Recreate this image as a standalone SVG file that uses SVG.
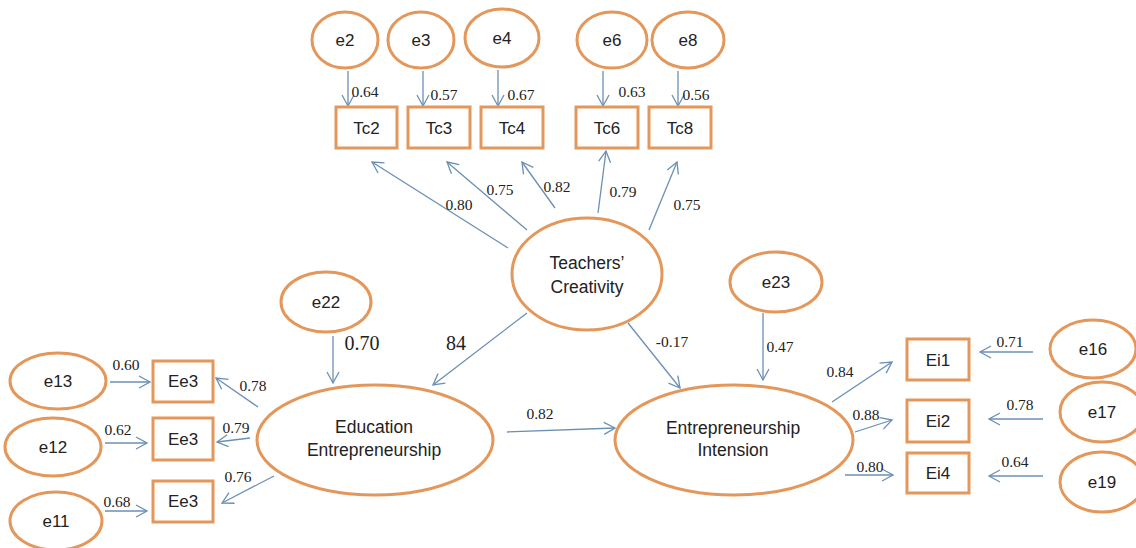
<svg xmlns="http://www.w3.org/2000/svg" width="1136" height="548" viewBox="0 0 1136 548">
  <defs>
    <marker id="open-arrow" viewBox="-1 -7 14 14" refX="11" refY="0" markerWidth="14" markerHeight="14" markerUnits="userSpaceOnUse" orient="auto">
      <path d="M0,-6 L11,0 L0,6" fill="none" stroke="#6A8FB5" stroke-width="1.3"/>
    </marker>
  </defs>
  <style>
    .node ellipse, .node rect { fill: #ffffff; stroke: #E4975A; stroke-width: 3; }
    .lbl { font-family: "Liberation Sans", Arial, sans-serif; font-size: 17px; fill: #222222; text-anchor: middle; }
    .big { font-size: 17.5px; }
    .edge line { stroke: #6A8FB5; stroke-width: 1.3; marker-end: url(#open-arrow); }
    .coef { font-family: "Liberation Serif", "Times New Roman", serif; font-size: 15.5px; fill: #222222; text-anchor: middle; }
    .coef-lg { font-size: 20px; }
  </style>
  <rect width="1136" height="548" fill="#ffffff"/>

  <!-- connectors -->
  <g id="connectors" class="edge">
    <!-- error terms onto Teachers' Creativity indicators -->
    <line x1="348" y1="71" x2="348" y2="106"/>
    <line x1="423" y1="71" x2="423" y2="106"/>
    <line x1="498" y1="70" x2="498" y2="106"/>
    <line x1="603" y1="71" x2="603" y2="106"/>
    <line x1="678" y1="71" x2="678" y2="106"/>
    <!-- Teachers' Creativity loadings -->
    <line x1="508" y1="248" x2="372" y2="162"/>
    <line x1="527" y1="230" x2="447" y2="162"/>
    <line x1="555" y1="208" x2="522" y2="162"/>
    <line x1="598" y1="213" x2="606" y2="151"/>
    <line x1="649" y1="230" x2="677" y2="162"/>
    <!-- structural paths -->
    <line x1="333" y1="336" x2="333" y2="383"/>
    <line x1="527" y1="313" x2="433" y2="385"/>
    <line x1="628" y1="323" x2="680" y2="388"/>
    <line x1="763" y1="313" x2="763" y2="380"/>
    <line x1="507" y1="432" x2="615" y2="428"/>
    <!-- Education Entrepreneurship loadings -->
    <line x1="258" y1="407" x2="216" y2="378"/>
    <line x1="250" y1="438" x2="217" y2="442"/>
    <line x1="274" y1="476" x2="222" y2="503"/>
    <!-- error terms onto Ee indicators -->
    <line x1="110" y1="382" x2="150" y2="382"/>
    <line x1="105" y1="443" x2="147" y2="443"/>
    <line x1="105" y1="511" x2="147" y2="511"/>
    <!-- Entrepreneurship Intension loadings -->
    <line x1="832" y1="402" x2="892" y2="362"/>
    <line x1="855" y1="432" x2="892" y2="420"/>
    <line x1="845" y1="475" x2="893" y2="475"/>
    <!-- error terms onto Ei indicators -->
    <line x1="1033" y1="352" x2="980" y2="352"/>
    <line x1="1043" y1="419" x2="989" y2="419"/>
    <line x1="1043" y1="476" x2="989" y2="476"/>
  </g>

  <!-- path coefficients -->
  <g id="coefficients">
    <text class="coef" x="365" y="97">0.64</text>
    <text class="coef" x="444" y="100">0.57</text>
    <text class="coef" x="521" y="100">0.67</text>
    <text class="coef" x="632" y="97">0.63</text>
    <text class="coef" x="696" y="100">0.56</text>
    <text class="coef" x="459" y="210">0.80</text>
    <text class="coef" x="500" y="195">0.75</text>
    <text class="coef" x="557" y="192">0.82</text>
    <text class="coef" x="623" y="197">0.79</text>
    <text class="coef" x="687" y="210">0.75</text>
    <text class="coef coef-lg" x="362" y="350">0.70</text>
    <text class="coef coef-lg" x="456" y="350">84</text>
    <text class="coef" x="672" y="347">-0.17</text>
    <text class="coef" x="780" y="352">0.47</text>
    <text class="coef" x="540" y="419">0.82</text>
    <text class="coef" x="126" y="370">0.60</text>
    <text class="coef" x="118" y="435">0.62</text>
    <text class="coef" x="117" y="507">0.68</text>
    <text class="coef" x="253" y="391">0.78</text>
    <text class="coef" x="236" y="433">0.79</text>
    <text class="coef" x="238" y="482">0.76</text>
    <text class="coef" x="840" y="377">0.84</text>
    <text class="coef" x="866" y="420">0.88</text>
    <text class="coef" x="870" y="472">0.80</text>
    <text class="coef" x="1010" y="347">0.71</text>
    <text class="coef" x="1020" y="410">0.78</text>
    <text class="coef" x="1015" y="467">0.64</text>
  </g>

  <!-- error terms, top row -->
  <g id="e2" class="node"><ellipse cx="345" cy="40" rx="33" ry="28"/><text class="lbl" x="345" y="46">e2</text></g>
  <g id="e3" class="node"><ellipse cx="421" cy="40" rx="33" ry="28"/><text class="lbl" x="421" y="46">e3</text></g>
  <g id="e4" class="node"><ellipse cx="502" cy="38" rx="37" ry="29"/><text class="lbl" x="502" y="44">e4</text></g>
  <g id="e6" class="node"><ellipse cx="612" cy="40" rx="35" ry="28"/><text class="lbl" x="612" y="46">e6</text></g>
  <g id="e8" class="node"><ellipse cx="688" cy="40" rx="36" ry="28"/><text class="lbl" x="688" y="46">e8</text></g>

  <!-- Teachers' Creativity indicators -->
  <g id="Tc2" class="node"><rect x="336" y="107" width="61" height="41"/><text class="lbl" x="366.5" y="134">Tc2</text></g>
  <g id="Tc3" class="node"><rect x="408" y="107" width="62" height="41"/><text class="lbl" x="439" y="134">Tc3</text></g>
  <g id="Tc4" class="node"><rect x="481" y="107" width="62" height="41"/><text class="lbl" x="512" y="134">Tc4</text></g>
  <g id="Tc6" class="node"><rect x="576" y="107" width="62" height="41"/><text class="lbl" x="607" y="134">Tc6</text></g>
  <g id="Tc8" class="node"><rect x="649" y="107" width="62" height="41"/><text class="lbl" x="680" y="134">Tc8</text></g>

  <!-- latent constructs -->
  <g id="teachers-creativity" class="node">
    <ellipse cx="587" cy="274" rx="75" ry="56"/>
    <text class="lbl big" x="587" y="269">Teachers’</text>
    <text class="lbl big" x="587" y="293">Creativity</text>
  </g>
  <g id="education-entrepreneurship" class="node">
    <ellipse cx="375" cy="440" rx="118" ry="55"/>
    <text class="lbl big" x="374" y="433">Education</text>
    <text class="lbl big" x="374" y="456">Entrepreneurship</text>
  </g>
  <g id="entrepreneurship-intension" class="node">
    <ellipse cx="734" cy="440" rx="119" ry="55"/>
    <text class="lbl big" x="733" y="434">Entrepreneurship</text>
    <text class="lbl big" x="733" y="456">Intension</text>
  </g>

  <!-- structural disturbances -->
  <g id="e22" class="node"><ellipse cx="326" cy="302" rx="45" ry="30"/><text class="lbl" x="326" y="308">e22</text></g>
  <g id="e23" class="node"><ellipse cx="776" cy="282" rx="46" ry="30"/><text class="lbl" x="776" y="288">e23</text></g>

  <!-- Education Entrepreneurship indicators and errors -->
  <g id="e13" class="node"><ellipse cx="58" cy="381" rx="48" ry="28"/><text class="lbl" x="58" y="387">e13</text></g>
  <g id="e12" class="node"><ellipse cx="53" cy="447" rx="48" ry="29"/><text class="lbl" x="53" y="453">e12</text></g>
  <g id="e11" class="node"><ellipse cx="56" cy="521" rx="46" ry="29"/><text class="lbl" x="56" y="527">e11</text></g>
  <g id="Ee3-a" class="node"><rect x="153" y="361" width="60" height="41"/><text class="lbl" x="183" y="387">Ee3</text></g>
  <g id="Ee3-b" class="node"><rect x="153" y="418" width="60" height="42"/><text class="lbl" x="183" y="445">Ee3</text></g>
  <g id="Ee3-c" class="node"><rect x="153" y="481" width="60" height="41"/><text class="lbl" x="183" y="507">Ee3</text></g>

  <!-- Entrepreneurship Intension indicators and errors -->
  <g id="Ei1" class="node"><rect x="907" y="339" width="62" height="41"/><text class="lbl" x="938" y="366">Ei1</text></g>
  <g id="Ei2" class="node"><rect x="907" y="400" width="62" height="42"/><text class="lbl" x="938" y="427">Ei2</text></g>
  <g id="Ei4" class="node"><rect x="907" y="453" width="62" height="40"/><text class="lbl" x="938" y="479">Ei4</text></g>
  <g id="e16" class="node"><ellipse cx="1093" cy="349" rx="43" ry="29"/><text class="lbl" x="1093" y="355">e16</text></g>
  <g id="e17" class="node"><ellipse cx="1102" cy="412" rx="42" ry="30"/><text class="lbl" x="1102" y="418">e17</text></g>
  <g id="e19" class="node"><ellipse cx="1102" cy="482" rx="42" ry="30"/><text class="lbl" x="1102" y="488">e19</text></g>
</svg>
